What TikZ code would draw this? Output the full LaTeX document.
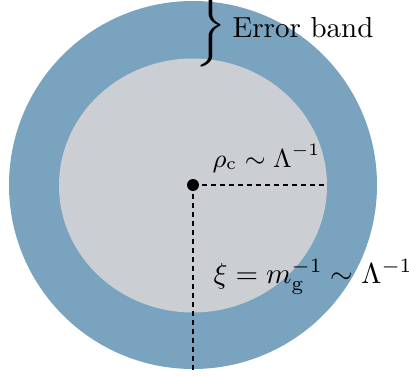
\documentclass[tikz,border=0pt]{standalone}
\usepackage{amsmath}
\usepackage{graphicx}
\definecolor{ringblue}{HTML}{7AA3BF}
\definecolor{coregray}{HTML}{CBCED2}
\begin{document}
\begin{tikzpicture}[x=0.345pt,y=-0.345pt,
  guide/.style={line width=0.8pt,dash pattern=on 1.7pt off 1.4pt},
  lbl/.style={inner sep=0pt}]
\useasboundingbox (0,0) rectangle (409,377);
\fill[ringblue] (193,185) circle[radius=184];
\fill[coregray] (193,185.5) ellipse[x radius=134,y radius=127];
\coordinate (c) at (193,185);
\coordinate (h) at (327,185);
\coordinate (v) at (193,370);
\draw[guide] (c) -- (h);
\draw[guide] (c) -- (v);
\fill (c) circle[radius=6];
\begin{scope}
\clip (0,0) rectangle (409,377);
\node[lbl,anchor=west] (brace) at (189,27) {\scalebox{1.6}{$\left.\rule[-7pt]{0pt}{14pt}\right\}$}};
\end{scope}
\node[lbl,anchor=base west] (eb) at (232,37) {Error band};
\node[lbl,anchor=base west] (rho) at (212,167) {\small$\rho_{\mathrm{c}}\sim\Lambda^{-1}$};
\node[lbl,anchor=base west] (xi) at (213,283) {$\xi=m_{\mathrm{g}}^{-1}\sim\Lambda^{-1}$};
\end{tikzpicture}
\end{document}
